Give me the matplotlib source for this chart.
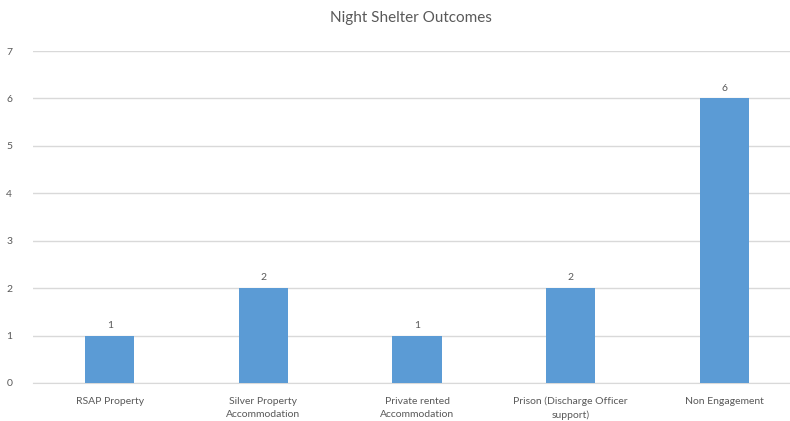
import matplotlib.pyplot as plt

categories = ['RSAP Property', 'Silver Property\nAccommodation', 'Private rented\nAccommodation',
              'Prison (Discharge Officer\nsupport)', 'Non Engagement']
values = [1, 2, 1, 2, 6]
yticks = [0, 1, 2, 3, 4, 5, 6, 7]

txt = '#595959'
plt.rcParams['font.family'] = ['Lato', 'DejaVu Sans']

fig = plt.figure(figsize=(7.9, 4.21), dpi=100)
W, H = 790, 421
left, right = 33, 801
bottom, top = 383, 51
ax = fig.add_axes([left / W, (H - bottom) / H, (right - left) / W, (bottom - top) / H])

x = range(len(categories))
bars = ax.bar(x, values, width=0.32, color='#5B9BD5', zorder=3)
for b, v in zip(bars, values):
    ax.text(b.get_x() + b.get_width() / 2, v + 0.12, str(v), ha='center', va='bottom',
            fontsize=7.5, color=txt)

ax.set_xlim(-0.5, len(categories) - 0.5)
ax.set_ylim(0, 7)
ax.set_yticks(yticks)
ax.set_xticks(list(x))
ax.set_xticklabels(categories, fontsize=7.5, color=txt, linespacing=1.55)
ax.tick_params(axis='y', labelsize=7.5, labelcolor=txt, length=0, pad=15)
ax.tick_params(axis='x', length=0, pad=10)
ax.grid(axis='y', color='#D9D9D9', linewidth=1, zorder=0)
for s in ['top', 'right', 'left']:
    ax.spines[s].set_visible(False)
ax.spines['bottom'].set_color('#D9D9D9')

fig.text(411 / W, 1 - 18 / H, 'Night Shelter Outcomes', ha='center', va='center',
         fontsize=11, color=txt)

fig.savefig('out.png', dpi=100)
